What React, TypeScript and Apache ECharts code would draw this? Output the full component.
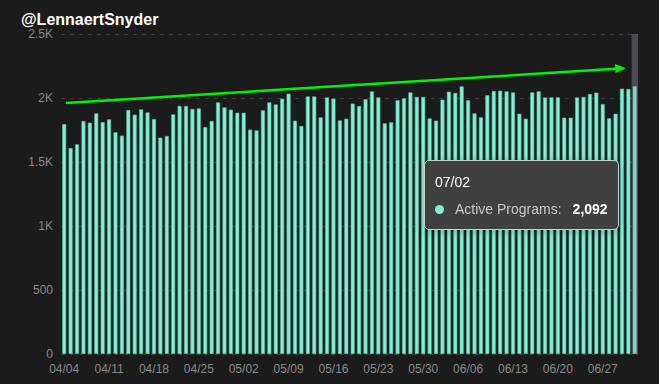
import React, { useEffect, useRef } from "react";
import * as echarts from "echarts";

const aprilDays = ["04/04","04/05","04/06","04/07","04/08","04/09","04/10","04/11","04/12","04/13","04/14","04/15","04/16","04/17","04/18","04/19","04/20","04/21","04/22","04/23","04/24","04/25","04/26","04/27","04/28","04/29","04/30"];
const mayDays = ["05/01","05/02","05/03","05/04","05/05","05/06","05/07","05/08","05/09","05/10","05/11","05/12","05/13","05/14","05/15","05/16","05/17","05/18","05/19","05/20","05/21","05/22","05/23","05/24","05/25","05/26","05/27","05/28","05/29","05/30","05/31"];
const juneDays = ["06/01","06/02","06/03","06/04","06/05","06/06","06/07","06/08","06/09","06/10","06/11","06/12","06/13","06/14","06/15","06/16","06/17","06/18","06/19","06/20","06/21","06/22","06/23","06/24","06/25","06/26","06/27","06/28","06/29","06/30"];
const julyDays = ["07/01","07/02"];
const categories = [...aprilDays, ...mayDays, ...juneDays, ...julyDays];

const activePrograms = [
  1797, 1609, 1638, 1820, 1807, 1880, 1810, 1833, 1732, 1706,
  1906, 1870, 1911, 1888, 1836, 1690, 1703, 1872, 1938, 1938,
  1914, 1919, 1773, 1820, 1966, 1927, 1909, 1885, 1885, 1753,
  1747, 1904, 1966, 1950, 1995, 2034, 1823, 1781, 2013, 2013,
  1849, 2005, 1995, 1825, 1838, 1956, 1938, 1990, 2052, 2005,
  1802, 1810, 1982, 1997, 2044, 2008, 2008, 1841, 1823, 1987,
  2049, 2039, 2091, 1982, 1880, 1849, 2021, 2055, 2057, 2052,
  2044, 1877, 1838, 2044, 2052, 2005, 2005, 2005, 1846, 1846,
  2005, 2008, 2031, 2042, 1953, 1841, 1877, 2073, 2070, 2092,
];

const yTicks = [0, 500, 1000, 1500, 2000, 2500];
const yTickLabels = ["0", "500", "1K", "1.5K", "2K", "2.5K"];

const seriesName = "Active Programs";
const titleText = "@LennaertSnyder";
const FONT = "'Liberation Sans', Arial, Helvetica, sans-serif";

export default function App() {
  const ref = useRef<HTMLDivElement>(null);
  useEffect(() => {
    document.body.style.margin = "0";
    const chart = echarts.init(ref.current!, null, { renderer: "svg" });
    const lastIdx = activePrograms.length - 1;
    chart.setOption({
      animation: false,
      backgroundColor: "#1b1b1b",
      textStyle: { fontFamily: FONT },
      title: {
        text: titleText,
        left: 16,
        top: 6,
        textStyle: { color: "#ffffff", fontSize: 16, fontWeight: "bold", fontFamily: FONT },
      },
      grid: { left: 61, right: 21, top: 34, bottom: 30 },
      xAxis: {
        type: "category",
        data: categories,
        axisLine: { show: false },
        axisTick: { show: false },
        axisLabel: { interval: 6, color: "#8a8a8a", fontSize: 12, margin: 9, fontFamily: FONT },
      },
      yAxis: {
        type: "value",
        min: 0,
        max: 2500,
        interval: 500,
        axisLine: { show: false },
        axisTick: { show: false },
        axisLabel: {
          color: "#8a8a8a",
          fontSize: 12,
          margin: 8,
          fontFamily: FONT,
          formatter: (v: number) => yTickLabels[yTicks.indexOf(v)] ?? String(v),
        },
        splitLine: { lineStyle: { color: "#3c3c3c", type: [4, 5], width: 1 } },
      },
      tooltip: {
        trigger: "axis",
        alwaysShowContent: true,
        triggerOn: "none",
        transitionDuration: 0,
        axisPointer: {
          type: "shadow",
          shadowStyle: { color: "rgba(150,150,160,0.4)" },
        },
        backgroundColor: "#404040",
        borderColor: "#cfcfcf",
        borderWidth: 1,
        borderRadius: 5,
        padding: [14, 10, 13, 10],
        position: () => [424, 160],
        formatter: (params: any) => {
          const p = Array.isArray(params) ? params[0] : params;
          const val = Number(p.value).toLocaleString("en-US");
          return (
            `<div style="font-family:${FONT};font-size:14px;line-height:14px;color:#ffffff">${p.name}</div>` +
            `<div style="font-family:${FONT};font-size:14px;line-height:14px;margin-top:13px;display:flex;align-items:center;white-space:nowrap">` +
            `<span style="display:inline-block;width:9px;height:9px;border-radius:50%;background:#7ef2d2;margin-right:11px"></span>` +
            `<span style="color:#c8c8c8">${p.seriesName}:</span>` +
            `<span style="color:#ffffff;font-weight:bold;margin-left:11px">${val}</span></div>`
          );
        },
      },
      graphic: [
        {
          type: "line",
          shape: { x1: 66, y1: 103, x2: 616, y2: 68.8 },
          style: { stroke: "#00f400", lineWidth: 2.5 },
          z: 100,
        },
        {
          type: "polygon",
          shape: { points: [[615, 64], [626, 68.3], [615.6, 73]] },
          style: { fill: "#00f400" },
          z: 100,
        },
      ],
      series: [
        {
          name: seriesName,
          type: "bar",
          data: activePrograms,
          barWidth: 4,
          itemStyle: { color: "#7ef2d2", borderColor: "#5bb79e", borderWidth: 0.6 },
        },
      ],
    });
    chart.dispatchAction({ type: "showTip", seriesIndex: 0, dataIndex: lastIdx });
    return () => chart.dispose();
  }, []);
  return (
    <div
      ref={ref}
      style={{ position: "fixed", left: 0, top: 0, width: 659, height: 384 }}
    />
  );
}
